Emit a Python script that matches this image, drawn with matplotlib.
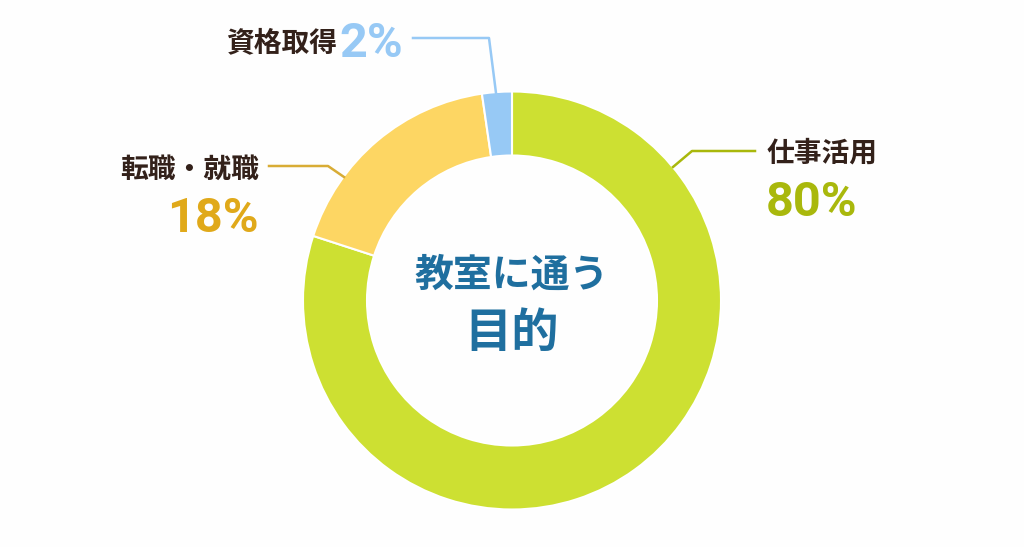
import matplotlib
matplotlib.use("Agg")
import matplotlib.pyplot as plt

plt.rcParams['font.family'] = ['Noto Sans CJK JP', 'DejaVu Sans']

labels = ['仕事活用', '転職・就職', '資格取得']
percents = [80, 18, 2]
shares = [80.0, 17.7, 2.3]
slice_colors = ['#cde032', '#fdd663', '#97c9f5']
value_colors = ['#a9b80c', '#e0a91a', '#97c9f5']
text_color = '#33211a'
line_colors = ['#a9b80c', '#d8ac35', '#97c9f5']
center_color = '#1f6f9f'
num_font = ['Roboto']

W, H = 1024, 547
fig = plt.figure(figsize=(W / 100, H / 100), dpi=100, facecolor='#fefefe')
ax = fig.add_axes([0, 0, 1, 1])

# y axis is inverted, so pie runs clockwise when counterclock stays True
ax.pie(shares, colors=slice_colors, startangle=-90, counterclock=True,
       center=(512, 300.5), radius=209, frame=True,
       wedgeprops=dict(width=64, edgecolor='white', linewidth=1.5))
ax.set_xlim(0, W)
ax.set_ylim(H, 0)
ax.set_aspect('auto')
ax.axis('off')

# leader lines
ax.plot([673, 692, 755], [167, 151, 151], color=line_colors[0], lw=1.8)
ax.plot([344, 328, 269], [177, 166, 166], color=line_colors[1], lw=1.8)
ax.plot([496, 489, 413], [93, 38, 38], color=line_colors[2], lw=1.8)

# category labels
ax.text(767, 153, labels[0], fontsize=20, fontweight='bold', color=text_color, ha='left', va='center')
ax.text(259, 170, labels[1], fontsize=20, fontweight='bold', color=text_color, ha='right', va='center')
ax.text(337, 43, labels[2], fontsize=20, fontweight='bold', color=text_color, ha='right', va='center')

# percentages
ax.text(766, 216, f'{percents[0]}%', fontsize=35, fontweight='bold', family=num_font, color=value_colors[0], ha='left', va='baseline')
ax.text(259, 232, f'{percents[1]}%', fontsize=35, fontweight='bold', family=num_font, color=value_colors[1], ha='right', va='baseline')
ax.text(403, 57, f'{percents[2]}%', fontsize=35, fontweight='bold', family=num_font, color=value_colors[2], ha='right', va='baseline')

# centre title
ax.text(512, 275, '教室に通う', fontsize=28, fontweight='bold', color=center_color, ha='center', va='center')
ax.text(512, 333, '目的', fontsize=34, fontweight='bold', color=center_color, ha='center', va='center')

fig.savefig('out.png', dpi=100, facecolor=fig.get_facecolor())
